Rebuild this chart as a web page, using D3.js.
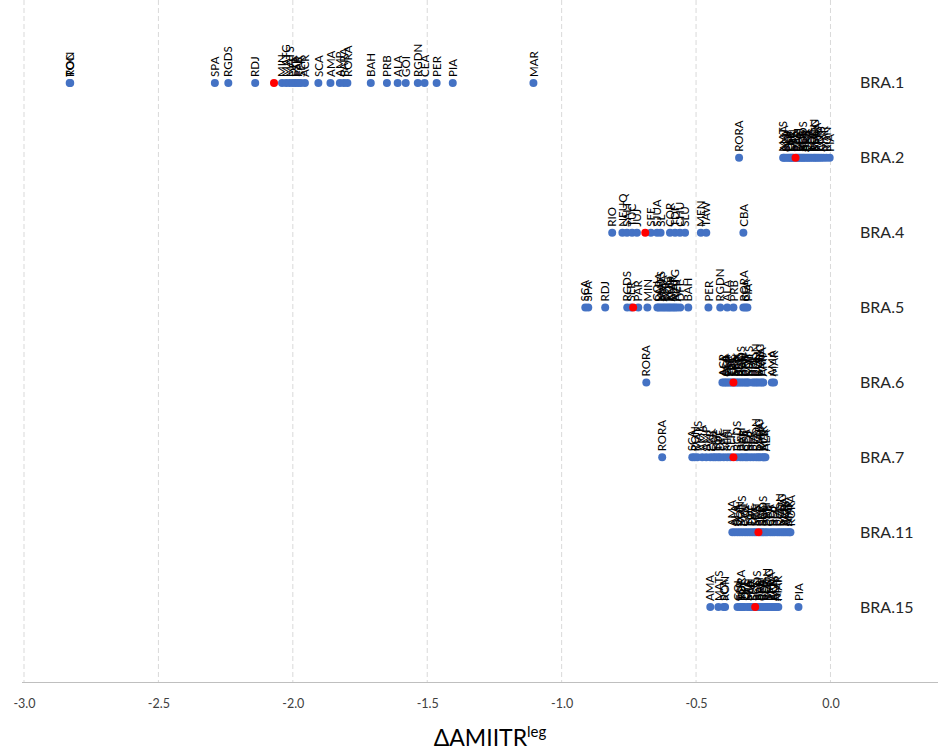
<html>
<head>
<meta charset="utf-8">
<style>
  body { margin: 0; background: #fff; }
  text { font-family: Lato, "Open Sans", sans-serif; }
</style>
</head>
<body>

<script src="https://d3js.org/d3.v7.min.js"></script>
<script>

    // region rows, top to bottom
    var regions = ["BRA.1", "BRA.2", "BRA.4", "BRA.5", "BRA.6", "BRA.7", "BRA.11", "BRA.15"];

    // red marker per row
    var brazilValue = [-2.07, -0.13, -0.689, -0.734, -0.361, -0.361, -0.268, -0.28];

    var xTicks = [-3.0, -2.5, -2.0, -1.5, -1.0, -0.5, 0.0];

    // [label, value] per row
    var bra1 = [["RON", -2.83], ["TOC", -2.828], ["SPA", -2.29], ["RGDS", -2.24], ["RDJ", -2.14],
        ["MIN", -2.04], ["MATG", -2.025], ["MATS", -2.012], ["DFE", -2.0], ["ESP", -1.99], ["PAR", -1.98],
        ["SER", -1.97], ["ACR", -1.955], ["SCA", -1.905], ["AMA", -1.86], ["AMP", -1.825], ["PARA", -1.81],
        ["RORA", -1.797], ["BAH", -1.71], ["PRB", -1.65], ["ALA", -1.61], ["GOI", -1.58], ["RGDN", -1.535],
        ["CEA", -1.51], ["PER", -1.465], ["PIA", -1.405], ["MAR", -1.105]];

    var bra2 = [["RORA", -0.34], ["MATS", -0.176], ["AMA", -0.172], ["SCA", -0.165], ["GOI", -0.158],
        ["ESP", -0.152], ["DFE", -0.147], ["SPA", -0.142], ["MIN", -0.138], ["PAR", -0.126], ["BAH", -0.12],
        ["SER", -0.114], ["ALA", -0.108], ["RGDS", -0.102], ["ACR", -0.097], ["PRB", -0.09], ["CEA", -0.084],
        ["RDJ", -0.078], ["TOC", -0.071], ["RGDN", -0.063], ["MATG", -0.057], ["PARA", -0.05], ["PER", -0.043],
        ["AMP", -0.035], ["MAR", -0.026], ["RON", -0.015], ["PIA", -0.003]];

    var bra4 = [["RIO", -0.812], ["NEUQ", -0.774], ["SALT", -0.757], ["TUC", -0.738], ["JUJ", -0.72],
        ["SFE", -0.668], ["SJUA", -0.645], ["SL", -0.632], ["COR", -0.597], ["TDF", -0.578], ["CHU", -0.56],
        ["SLU", -0.541], ["MEN", -0.482], ["TAW", -0.462], ["CBA", -0.324]];

    var bra5 = [["SCA", -0.912], ["SPA", -0.901], ["RDJ", -0.838], ["RGDS", -0.756], ["SER", -0.742],
        ["PAR", -0.715], ["MIN", -0.681], ["GOI", -0.644], ["PARA", -0.638], ["MATS", -0.63], ["AMA", -0.622],
        ["ESP", -0.615], ["TOC", -0.607], ["RON", -0.6], ["AMP", -0.593], ["MAR", -0.585], ["MATG", -0.578],
        ["ACR", -0.57], ["DFE", -0.559], ["BAH", -0.529], ["PER", -0.454], ["RGDN", -0.41], ["ALA", -0.384],
        ["PRB", -0.361], ["RORA", -0.324], ["CEA", -0.316], ["PIA", -0.309]];

    var bra6 = [["RORA", -0.685], ["ACR", -0.402], ["ALA", -0.396], ["SCA", -0.39], ["GOI", -0.385],
        ["ESP", -0.378], ["TOC", -0.372], ["DFE", -0.366], ["SPA", -0.358], ["MIN", -0.352], ["PAR", -0.346],
        ["SER", -0.34], ["RGDS", -0.333], ["BAH", -0.327], ["PRB", -0.32], ["CEA", -0.314], ["RDJ", -0.309],
        ["MATS", -0.304], ["PER", -0.29], ["PIA", -0.283], ["RGDN", -0.276], ["RON", -0.27], ["MATG", -0.262],
        ["PARA", -0.255], ["AMP", -0.25], ["AMA", -0.218], ["MAR", -0.21]];

    var bra7 = [["RORA", -0.626], ["SCA", -0.514], ["RON", -0.505], ["MATS", -0.495], ["AMA", -0.477],
        ["AMP", -0.462], ["PAR", -0.447], ["GOI", -0.436], ["ESP", -0.428], ["TOC", -0.418], ["DFE", -0.41],
        ["SPA", -0.397], ["MIN", -0.384], ["SER", -0.372], ["RGDS", -0.348], ["BAH", -0.335], ["PRB", -0.326],
        ["CEA", -0.316], ["RDJ", -0.309], ["PER", -0.298], ["PIA", -0.287], ["RGDN", -0.276], ["MATG", -0.268],
        ["PARA", -0.261], ["MAR", -0.252], ["ACR", -0.247], ["ALA", -0.242]];

    var bra11 = [["AMA", -0.365], ["ALA", -0.356], ["SCA", -0.346], ["RON", -0.337], ["MATS", -0.328],
        ["GOI", -0.318], ["ESP", -0.309], ["TOC", -0.3], ["DFE", -0.291], ["SPA", -0.283], ["MIN", -0.276],
        ["PAR", -0.262], ["SER", -0.255], ["RGDS", -0.25], ["BAH", -0.242], ["PRB", -0.235], ["CEA", -0.224],
        ["RDJ", -0.216], ["PER", -0.208], ["PIA", -0.198], ["RGDN", -0.19], ["MATG", -0.182], ["PARA", -0.175],
        ["ACR", -0.168], ["AMP", -0.16], ["MAR", -0.153], ["RORA", -0.149]];

    var bra15 = [["AMA", -0.447], ["MATS", -0.417], ["SCA", -0.398], ["RON", -0.392], ["GOI", -0.346],
        ["ESP", -0.338], ["RORA", -0.332], ["TOC", -0.328], ["DFE", -0.32], ["SPA", -0.309], ["MIN", -0.302],
        ["PAR", -0.295], ["SER", -0.287], ["RGDS", -0.274], ["BAH", -0.268], ["PRB", -0.261], ["CEA", -0.254],
        ["RDJ", -0.247], ["PER", -0.24], ["RGDN", -0.235], ["MATG", -0.228], ["PARA", -0.22], ["ACR", -0.213],
        ["ALA", -0.206], ["AMP", -0.2], ["MAR", -0.194], ["PIA", -0.119]];

    var rows = [bra1, bra2, bra4, bra5, bra6, bra7, bra11, bra15];

    var width = 940,
        height = 750;

    var svg = d3.select("body").append("svg").attr("width", width).attr("height", height);

    var x = d3.scaleLinear().domain([-3, 0.4]).range([24, 938]);
    var y = d3.scaleLinear().domain([0, 9]).range([682, 8]);

    function rowY(i) {
        return y(regions.length - i);
    }

    // dashed vertical gridlines
    svg.append("g").selectAll("line")
        .data(xTicks)
        .enter().append("line")
        .attr("x1", function (d) { return x(d); })
        .attr("x2", function (d) { return x(d); })
        .attr("y1", 0)
        .attr("y2", y(0))
        .attr("stroke", "#d9d9d9")
        .attr("stroke-width", 1)
        .attr("stroke-dasharray", "5,3");

    // bottom axis
    var axis = svg.append("g")
        .attr("transform", "translate(0," + y(0) + ")")
        .call(d3.axisBottom(x)
            .tickValues(xTicks)
            .tickSize(0)
            .tickPadding(17)
            .tickFormat(function (d) { return d.toFixed(1); }));

    axis.select(".domain").attr("stroke", "#bfbfbf").attr("d", "M22,0.5H938");
    axis.selectAll("text")
        .style("font-family", "Lato, 'Open Sans', sans-serif")
        .style("font-size", "12.5px")
        .attr("fill", "#404040");

    // axis title
    var title = svg.append("text")
        .attr("x", 490)
        .attr("y", 746)
        .attr("text-anchor", "middle")
        .attr("fill", "#000")
        .style("font-size", "23px");
    title.append("tspan").text("ΔAMIITR");
    title.append("tspan").attr("dy", -9).style("font-size", "15px").text("leg");

    // row labels
    svg.append("g").selectAll("text")
        .data(regions)
        .enter().append("text")
        .attr("x", 860)
        .attr("y", function (d, i) { return rowY(i); })
        .attr("dy", "0.35em")
        .attr("fill", "#262626")
        .style("font-size", "16px")
        .text(function (d) { return d; });

    // points and labels
    rows.forEach(function (row, i) {
        var g = svg.append("g");
        var cy = rowY(i);

        g.selectAll("circle")
            .data(row)
            .enter().append("circle")
            .attr("cx", function (d) { return x(d[1]); })
            .attr("cy", cy)
            .attr("r", 4)
            .attr("fill", "#4472c4");

        g.selectAll("text")
            .data(row)
            .enter().append("text")
            .attr("transform", function (d) {
                return "translate(" + x(d[1]) + "," + (cy - 6) + ") rotate(-90)";
            })
            .attr("dy", "0.36em")
            .attr("fill", "#000")
            .style("font-size", "11.5px")
            .text(function (d) { return d[0]; });

        g.append("circle")
            .attr("cx", x(brazilValue[i]))
            .attr("cy", cy)
            .attr("r", 4)
            .attr("fill", "#ff0000");
    });

</script>
</body>
</html>
